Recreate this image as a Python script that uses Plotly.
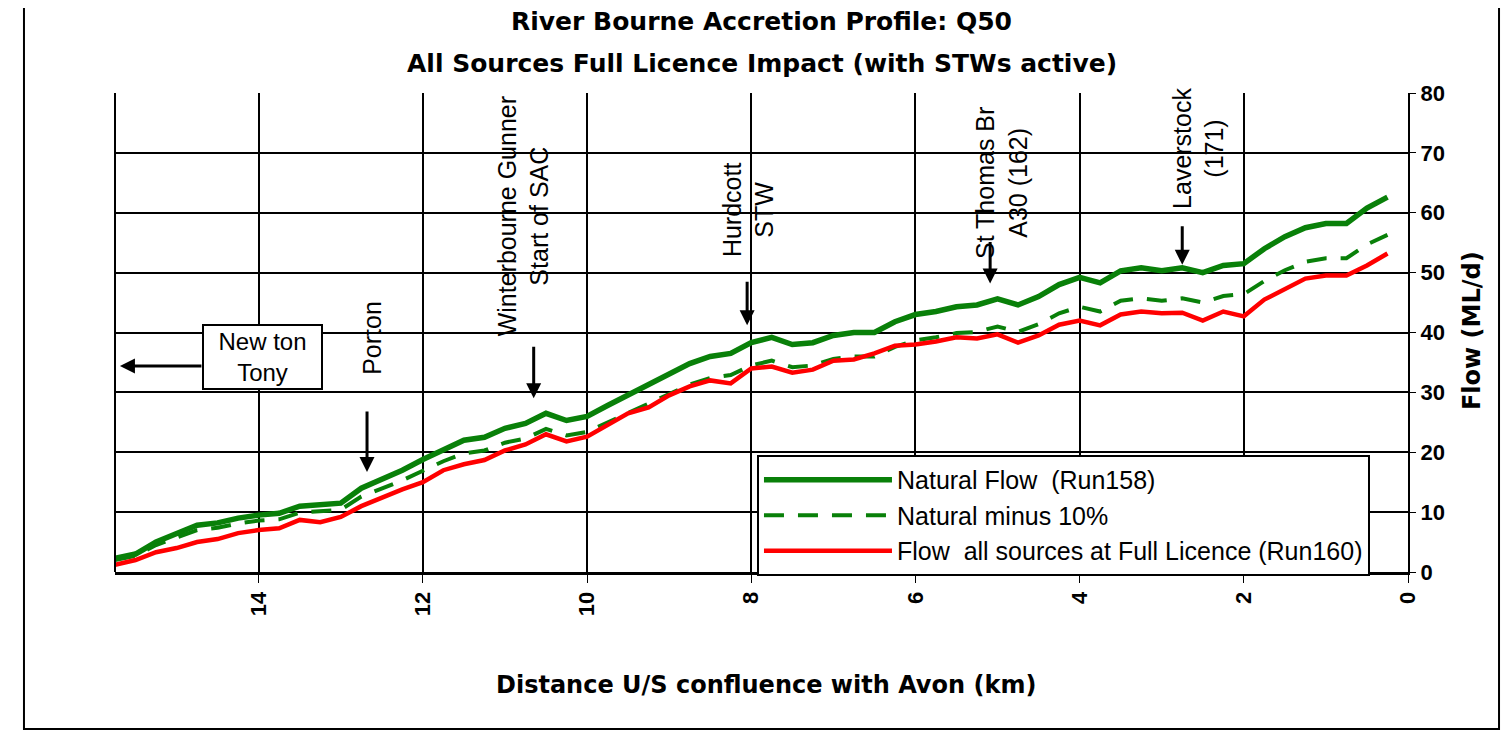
import plotly.graph_objects as go

# distance upstream of Avon confluence (km) and flows (ML/d)
distance_km = [15.75, 15.5, 15.25, 15.0, 14.75, 14.5, 14.25, 14.0, 13.75, 13.5, 13.25, 13.0,
               12.75, 12.5, 12.25, 12.0, 11.75, 11.5, 11.25, 11.0, 10.75, 10.5, 10.25, 10.0,
               9.75, 9.5, 9.25, 9.0, 8.75, 8.5, 8.25, 8.0, 7.75, 7.5, 7.25, 7.0,
               6.75, 6.5, 6.25, 6.0, 5.75, 5.5, 5.25, 5.0, 4.75, 4.5, 4.25, 4.0,
               3.75, 3.5, 3.25, 3.0, 2.75, 2.5, 2.25, 2.0, 1.75, 1.5, 1.25, 1.0,
               0.75, 0.5, 0.25]

natural_flow = [2.3, 3.0, 5.0, 6.3, 7.8, 8.2, 9.0, 9.5, 9.8, 11.0, 11.3, 11.5,
                14.0, 15.5, 17.0, 18.8, 20.5, 22.0, 22.5, 24.0, 24.8, 26.5, 25.3, 26.0,
                27.8, 29.5, 31.3, 33.0, 34.8, 36.0, 36.5, 38.3, 39.2, 38.0, 38.3, 39.5,
                40.0, 40.0, 41.8, 43.0, 43.5, 44.3, 44.6, 45.6, 44.6, 46.0, 48.0, 49.2,
                48.3, 50.3, 50.8, 50.3, 50.8, 50.0, 51.2, 51.5, 54.0, 56.0, 57.5, 58.2,
                58.2, 60.8, 62.6]

natural_minus_10 = [2.0, 2.7, 4.5, 5.7, 7.0, 7.4, 8.1, 8.6, 8.8, 9.9, 10.2, 10.4,
                    12.6, 14.0, 15.3, 16.9, 18.5, 19.8, 20.3, 21.6, 22.3, 23.9, 22.8, 23.4,
                    25.0, 26.6, 28.2, 29.7, 31.3, 32.4, 32.9, 34.5, 35.3, 34.2, 34.5, 35.6,
                    36.0, 36.0, 37.6, 38.7, 39.2, 39.9, 40.1, 41.0, 40.1, 41.4, 43.2, 44.3,
                    43.5, 45.3, 45.7, 45.3, 45.7, 45.0, 46.1, 46.4, 48.6, 50.4, 51.8, 52.4,
                    52.4, 54.7, 56.3]

full_licence = [1.2, 2.0, 3.3, 4.0, 5.0, 5.5, 6.5, 7.0, 7.3, 8.7, 8.3, 9.2,
                11.0, 12.5, 13.8, 15.0, 17.0, 18.0, 18.7, 20.3, 21.3, 23.0, 21.8, 22.6,
                24.5, 26.5, 27.5, 29.5, 31.0, 32.0, 31.5, 34.0, 34.3, 33.3, 33.8, 35.3,
                35.5, 36.5, 37.8, 38.0, 38.5, 39.2, 39.0, 39.7, 38.3, 39.5, 41.3, 42.0,
                41.2, 43.0, 43.5, 43.2, 43.3, 42.0, 43.5, 42.7, 45.5, 47.3, 49.0, 49.5,
                49.5, 51.2, 53.2]

# site labels: (text, text km, text flow, arrow tip km, arrow tip flow, arrow length px)
sites = [
    ("Porton", 12.62, 39.1, 12.68, 16.7, 62),
    ("Winterbourne Gunner<br>Start of SAC", 10.78, 59.4, 10.65, 29.0, 53),
    ("Hurdcott<br>STW", 8.04, 60.6, 8.05, 41.2, 45),
    ("St Thomas Br<br>A30 (162)", 4.95, 64.9, 5.09, 48.2, 43),
    ("Laverstock<br>(171)", 2.56, 70.8, 2.75, 51.3, 40),
]

FONT = "Liberation Sans, Arial, sans-serif"
BOLD = "DejaVu Sans, Verdana, sans-serif"

fig = go.Figure()
fig.add_trace(go.Scatter(x=distance_km, y=natural_flow, mode="lines",
                         name="Natural Flow  (Run158)",
                         line=dict(color="#098009", width=5.5)))
fig.add_trace(go.Scatter(x=distance_km, y=natural_minus_10, mode="lines",
                         name="Natural minus 10%",
                         line=dict(color="#098009", width=4, dash="20px,14px")))
fig.add_trace(go.Scatter(x=distance_km, y=full_licence, mode="lines",
                         name="Flow  all sources at Full Licence (Run160)",
                         line=dict(color="#ff0000", width=4.5)))

for text, tx, ty, ax_km, ay_flow, alen in sites:
    fig.add_annotation(x=tx, y=ty, text=text, showarrow=False, textangle=-90,
                       font=dict(family=FONT, size=25, color="black"))
    fig.add_annotation(x=ax_km, y=ay_flow, text="", showarrow=True, arrowhead=2,
                       arrowsize=1, arrowwidth=3, arrowcolor="black", ax=0, ay=-alen)

# Newton Tony box and arrow pointing off-chart
fig.add_annotation(x=13.95, y=35.9, text="New ton<br>Tony", showarrow=False,
                   font=dict(family=FONT, size=24, color="black"),
                   bordercolor="black", borderwidth=2, bgcolor="white",
                   width=115, height=60)
fig.add_annotation(x=15.69, y=34.4, text="", showarrow=True, arrowhead=2,
                   arrowsize=1, arrowwidth=3, arrowcolor="black", ax=83, ay=0)

# titles
fig.add_annotation(xref="paper", yref="paper", x=0.5, y=1.150, showarrow=False,
                   xanchor="center", yanchor="middle",
                   text="<b>River Bourne Accretion Profile: Q50</b>",
                   font=dict(family=BOLD, size=25, color="black"))
fig.add_annotation(xref="paper", yref="paper", x=0.5, y=1.0626, showarrow=False,
                   xanchor="center", yanchor="middle",
                   text="<b>All Sources Full Licence Impact (with STWs active)</b>",
                   font=dict(family=BOLD, size=25, color="black"))
fig.add_annotation(xref="paper", yref="paper", x=0.5035, y=-0.236, showarrow=False,
                   xanchor="center", yanchor="middle",
                   text="<b>Distance U/S confluence with Avon (km)</b>",
                   font=dict(family=BOLD, size=24, color="black"))
fig.add_annotation(xref="paper", yref="paper", x=1.0495, y=0.503, showarrow=False,
                   xanchor="center", yanchor="middle",
                   text="<b>Flow (ML/d)</b>", textangle=-90,
                   font=dict(family=BOLD, size=24, color="black"))

# outer frame
fig.add_shape(type="rect", xref="paper", yref="paper", x0=-0.0704, x1=1.0704,
              y0=-0.3278, y1=1.1816, line=dict(color="black", width=2))

fig.update_xaxes(range=[15.75, 0], dtick=2, tick0=0, tickangle=-90,
                 showgrid=True, gridcolor="black", gridwidth=2,
                 showline=True, linecolor="black", linewidth=3, mirror=False,
                 ticks="outside", ticklen=8, tickcolor="black",
                 tickfont=dict(family=FONT, size=22, color="black", weight="bold"),
                 zeroline=False)
fig.update_yaxes(range=[0, 80], dtick=10, side="right",
                 showgrid=True, gridcolor="black", gridwidth=2,
                 showline=True, linecolor="black", linewidth=2,
                 ticks="outside", ticklen=6, tickcolor="black",
                 tickfont=dict(family=FONT, size=22, color="black", weight="bold"),
                 zeroline=False)

fig.add_shape(type="line", xref="paper", yref="paper", x0=0, x1=0, y0=0, y1=1,
              line=dict(color="black", width=2))

# page body has an 8px margin, so the figure is 8px smaller and margins shifted
fig.update_layout(
    width=1501, height=723,
    margin=dict(l=107, r=101, t=85, b=159),
    paper_bgcolor="white", plot_bgcolor="white",
    showlegend=True,
    legend=dict(x=0.4965, y=0.2443, xanchor="left", yanchor="top",
                bgcolor="white", bordercolor="black", borderwidth=2,
                font=dict(family=FONT, size=25, color="black"),
                itemwidth=128),
)

fig.write_html("out.html")
